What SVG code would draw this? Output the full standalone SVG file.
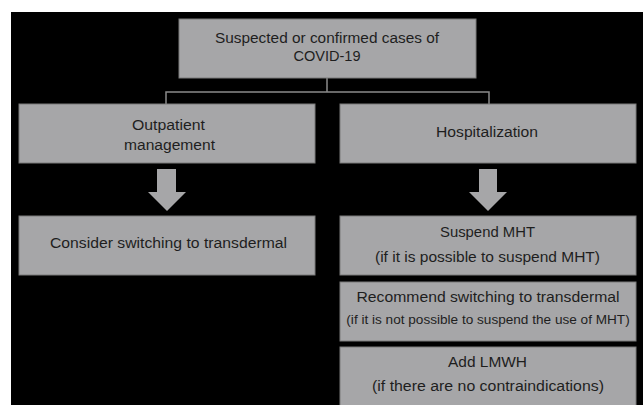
<svg xmlns="http://www.w3.org/2000/svg" width="643" height="405" viewBox="0 0 643 405">
<style>
.box{fill:#a6a6a8;stroke:#7a7a7a;stroke-width:1}
.arr{fill:#a6a6a8}
.con{fill:none;stroke:#8a8a8a;stroke-width:1.5}
text{font-family:"Liberation Sans",Arial,sans-serif;font-size:15.5px;fill:#1e1e1e;text-anchor:middle}
.sm{font-size:13.6px}
</style>
<rect x="0" y="0" width="643" height="405" fill="#ffffff"/>
<rect x="11" y="12" width="632" height="393" fill="#000000"/>
<g id="connectors">
<path class="con" d="M327,78 V92 M166,104 V92 H489 V104"/>
<polygon class="arr" points="157,169 176,169 176,192 186,192 167,211 148,192 157,192"/>
<polygon class="arr" points="479,169 497,169 497,192 507,192 488,211 469,192 479,192"/>
</g>
<g id="n-covid">
<rect class="box" x="179" y="19" width="297" height="59"/>
<text x="327" y="43" textLength="224" lengthAdjust="spacingAndGlyphs">Suspected or confirmed cases of</text>
<text x="327" y="61" textLength="67" lengthAdjust="spacingAndGlyphs">COVID-19</text>
</g>
<g id="n-outpatient">
<rect class="box" x="19" y="104" width="296" height="59"/>
<text x="168.5" y="130" textLength="73" lengthAdjust="spacingAndGlyphs">Outpatient</text>
<text x="169.5" y="150" textLength="91" lengthAdjust="spacingAndGlyphs">management</text>
</g>
<g id="n-hospital">
<rect class="box" x="340" y="104" width="296" height="59"/>
<text x="487" y="137" textLength="102" lengthAdjust="spacingAndGlyphs">Hospitalization</text>
</g>
<g id="n-consider">
<rect class="box" x="19" y="216" width="296" height="59"/>
<text x="168.5" y="248" textLength="237" lengthAdjust="spacingAndGlyphs">Consider switching to transdermal</text>
</g>
<g id="n-suspend">
<rect class="box" x="340" y="216" width="296" height="59"/>
<text x="487.5" y="237" textLength="95" lengthAdjust="spacingAndGlyphs">Suspend MHT</text>
<text x="487.5" y="262" textLength="225" lengthAdjust="spacingAndGlyphs">(if it is possible to suspend MHT)</text>
</g>
<g id="n-recommend">
<rect class="box" x="340" y="282" width="296" height="59"/>
<text x="488" y="302" textLength="263" lengthAdjust="spacingAndGlyphs">Recommend switching to transdermal</text>
<text class="sm" x="488" y="324">(if it is not possible to suspend the use of MHT)</text>
</g>
<g id="n-lmwh">
<rect class="box" x="340" y="347" width="296" height="70"/>
<text x="487.5" y="367" textLength="79" lengthAdjust="spacingAndGlyphs">Add LMWH</text>
<text x="488" y="391" textLength="232" lengthAdjust="spacingAndGlyphs">(if there are no contraindications)</text>
</g>
</svg>
